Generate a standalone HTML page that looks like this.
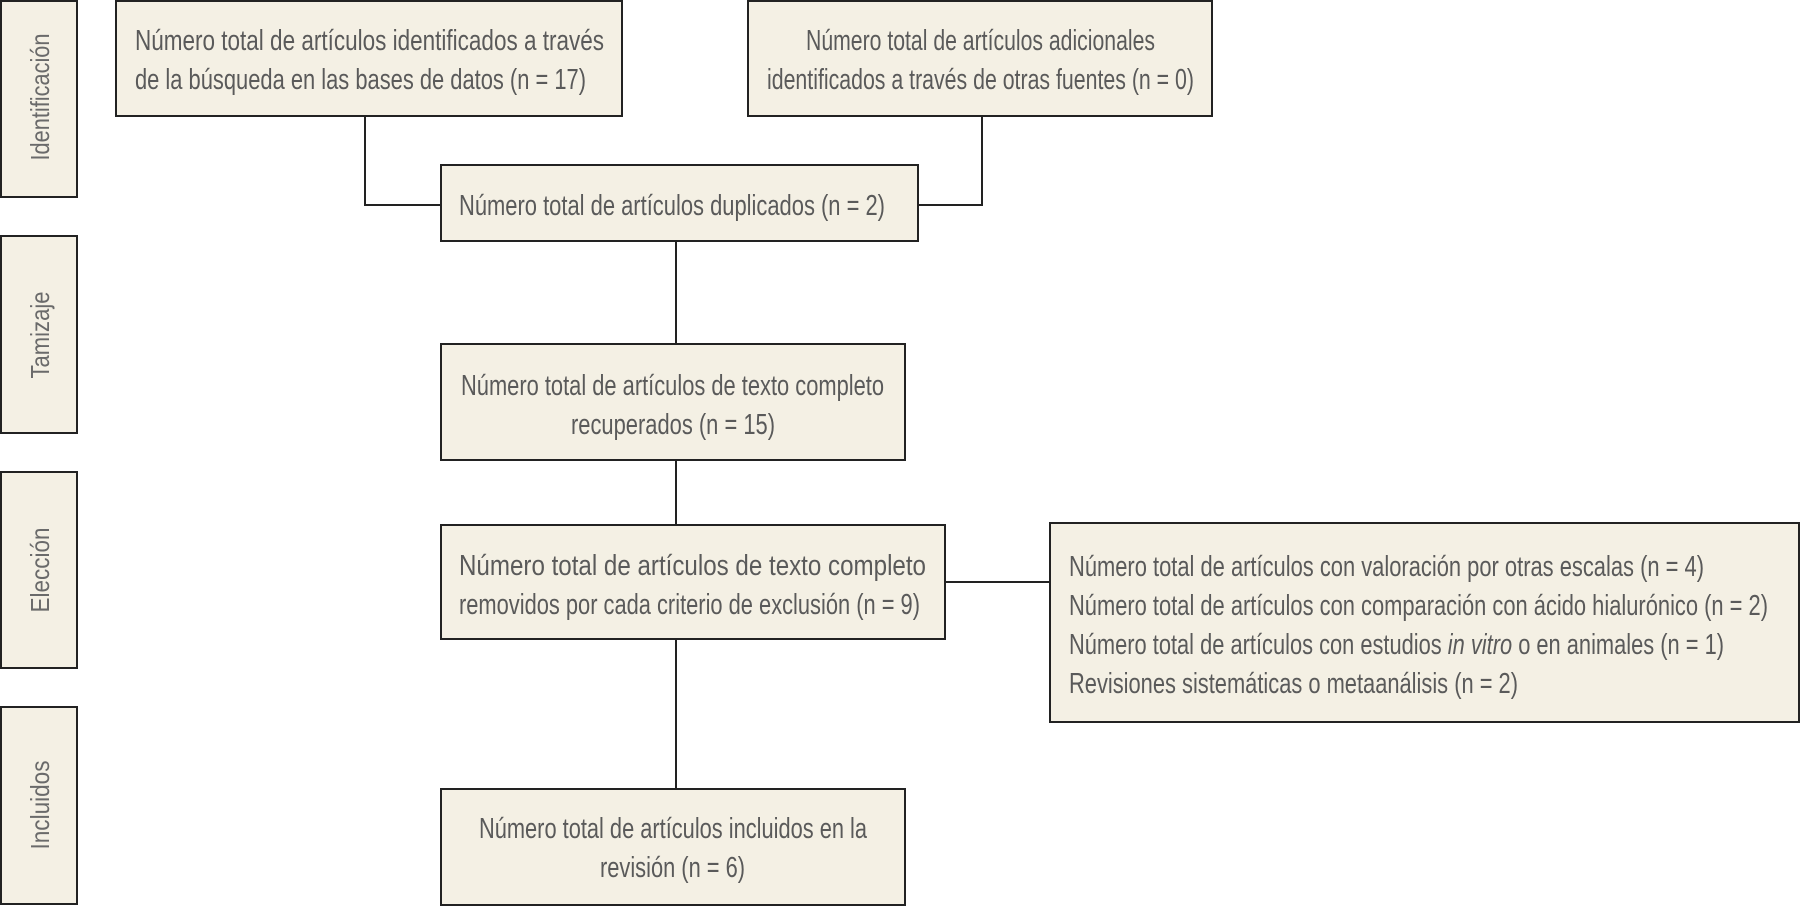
<!DOCTYPE html>
<html><head><meta charset="utf-8"><style>
html,body{margin:0;padding:0;background:#fff;}
svg{display:block}
.t{font-family:"Liberation Sans",sans-serif;font-size:29px;fill:#5a5a5a;}
.s{font-family:"Liberation Sans",sans-serif;font-size:26px;fill:#6a6a6a;}
</style></head><body>
<svg width="1800" height="906" viewBox="0 0 1800 906" xmlns="http://www.w3.org/2000/svg">
<g fill="#f4f0e4" stroke="#222" stroke-width="2">
<rect x="1" y="1" width="76" height="196"/>
<rect x="1" y="236" width="76" height="197"/>
<rect x="1" y="472" width="76" height="196"/>
<rect x="1" y="707" width="76" height="197"/>
<rect x="116" y="1" width="506" height="115"/>
<rect x="748" y="1" width="464" height="115"/>
<rect x="441" y="165" width="477" height="76"/>
<rect x="441" y="344" width="464" height="116"/>
<rect x="441" y="525" width="504" height="114"/>
<rect x="1050" y="523" width="749" height="199"/>
<rect x="441" y="789" width="464" height="116"/>
</g>
<g fill="none" stroke="#222" stroke-width="2">
<polyline points="365,116 365,205 441,205"/>
<polyline points="982,116 982,205 918,205"/>
<line x1="676" y1="241" x2="676" y2="344"/>
<line x1="676" y1="460" x2="676" y2="525"/>
<line x1="676" y1="639" x2="676" y2="789"/>
<line x1="945" y1="582" x2="1050" y2="582"/>
</g>
<g class="s" text-anchor="middle">
<text transform="translate(49,97) rotate(-90)" textLength="127" lengthAdjust="spacingAndGlyphs">Identificación</text>
<text transform="translate(49,335) rotate(-90)" textLength="87" lengthAdjust="spacingAndGlyphs">Tamizaje</text>
<text transform="translate(49,570) rotate(-90)" textLength="85" lengthAdjust="spacingAndGlyphs">Elección</text>
<text transform="translate(49,805) rotate(-90)" textLength="89" lengthAdjust="spacingAndGlyphs">Incluidos</text>
</g>
<g class="t">
<text x="135" y="50" textLength="469" lengthAdjust="spacingAndGlyphs">Número total de artículos identificados a través</text>
<text x="135" y="89" textLength="451" lengthAdjust="spacingAndGlyphs">de la búsqueda en las bases de datos (n = 17)</text>
<text x="806" y="50" textLength="349" lengthAdjust="spacingAndGlyphs">Número total de artículos adicionales</text>
<text x="767" y="89" textLength="427" lengthAdjust="spacingAndGlyphs">identificados a través de otras fuentes (n = 0)</text>
<text x="459" y="215" textLength="426" lengthAdjust="spacingAndGlyphs">Número total de artículos duplicados (n = 2)</text>
<text x="461" y="395" textLength="423" lengthAdjust="spacingAndGlyphs">Número total de artículos de texto completo</text>
<text x="571" y="434" textLength="204" lengthAdjust="spacingAndGlyphs">recuperados (n = 15)</text>
<text x="459" y="575" textLength="467" lengthAdjust="spacingAndGlyphs">Número total de artículos de texto completo</text>
<text x="459" y="614" textLength="461" lengthAdjust="spacingAndGlyphs">removidos por cada criterio de exclusión (n = 9)</text>
<text x="1069" y="576" textLength="635" lengthAdjust="spacingAndGlyphs">Número total de artículos con valoración por otras escalas (n = 4)</text>
<text x="1069" y="615" textLength="699" lengthAdjust="spacingAndGlyphs">Número total de artículos con comparación con ácido hialurónico (n = 2)</text>
<text x="1069" y="654" textLength="655" lengthAdjust="spacingAndGlyphs">Número total de artículos con estudios <tspan font-style="italic">in vitro</tspan> o en animales (n = 1)</text>
<text x="1069" y="693" textLength="449" lengthAdjust="spacingAndGlyphs">Revisiones sistemáticas o metaanálisis (n = 2)</text>
<text x="479" y="838" textLength="388" lengthAdjust="spacingAndGlyphs">Número total de artículos incluidos en la</text>
<text x="600" y="877" textLength="145" lengthAdjust="spacingAndGlyphs">revisión (n = 6)</text>
</g>
</svg>
</body></html>
